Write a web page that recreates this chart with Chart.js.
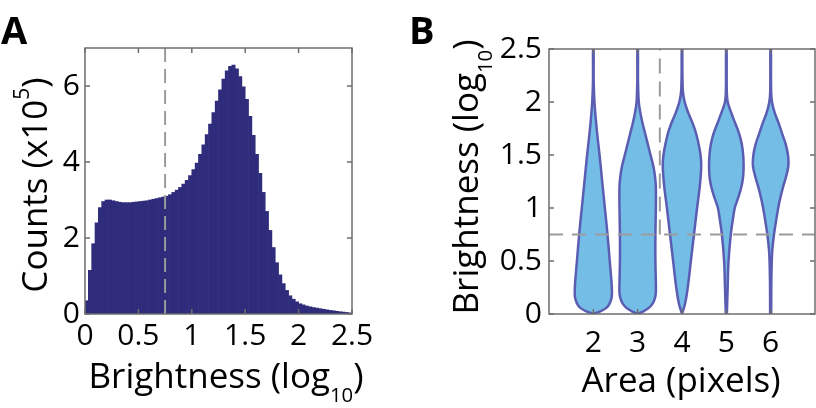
<!DOCTYPE html>
<html>
<head>
<meta charset="utf-8">
<script src="https://cdn.jsdelivr.net/npm/chart.js@4.4.1/dist/chart.umd.min.js"></script>
<style>
  html, body { margin: 0; padding: 0; background: #fff; }
  body { width: 816px; height: 408px; position: relative; overflow: hidden; font-family: 'Open Sans', sans-serif; }
  .panel { position: absolute; top: 0; width: 408px; height: 408px; }
  .lbl { position: absolute; font-size: 35px; line-height: 34px; height: 34px; white-space: nowrap; text-align: center; color: #000; }
  .lbl sup { font-size: 0.6em; vertical-align: baseline; position: relative; top: -0.85em; }
  .lbl sub { font-size: 0.58em; vertical-align: baseline; position: relative; top: 0.7em; }
  .rot { transform: rotate(-90deg); }
  .letter { position: absolute; font-size: 38px; line-height: 38px; font-weight: 700; color: #000; }
</style>
</head>
<body>
<div class="panel" style="left:0"><canvas id="histChart" width="408" height="408"></canvas></div>
<div class="panel" style="left:408px"><canvas id="violinChart" width="408" height="408"></canvas></div>

<div class="letter" style="left:1px; top:10px;">A</div>
<div class="letter" style="left:409px; top:10px;">B</div>
<div class="lbl rot" style="left:-116px; top:168px; width:300px;">Counts (x10<sup>5</sup>)</div>
<div class="lbl" style="left:26px; top:358px; width:400px;">Brightness (log<sub>10</sub>)</div>
<div class="lbl rot" style="left:315px; top:160px; width:300px;">Brightness (log<sub>10</sub>)</div>
<div class="lbl" style="left:481px; top:362px; width:400px;">Area (pixels)</div>

<script>
// --- panel A: brightness histogram (counts in units of 1e5) ---
const binStart = 0;
const binWidth = 0.03125;
const histCounts = [
  0.35, 1.15, 1.85, 2.4, 2.8, 2.96, 3.0, 3.0, 2.98, 2.96,
  2.94, 2.93, 2.93, 2.93, 2.94, 2.95, 2.96, 2.97, 2.98, 3.0,
  3.02, 3.04, 3.06, 3.08, 3.1, 3.14, 3.2, 3.26, 3.33, 3.42,
  3.52, 3.64, 3.8, 3.97, 4.2, 4.45, 4.72, 5.0, 5.3, 5.6,
  5.9, 6.18, 6.4, 6.52, 6.55, 6.45, 6.25, 5.98, 5.65, 5.2,
  4.7, 4.2, 3.7, 3.2, 2.7, 2.2, 1.75, 1.35, 1.03, 0.8,
  0.62, 0.48, 0.39, 0.32, 0.27, 0.24, 0.21, 0.19, 0.17, 0.155,
  0.14, 0.125, 0.11, 0.095, 0.085, 0.07, 0.06, 0.05, 0.04, 0.03
];
const brightnessTicks = [0, 0.5, 1, 1.5, 2, 2.5];
const countTicks = [0, 2, 4, 6];
const brightnessCut = 0.75;
const areaCut = 3.5;

// --- panel B: violin half-widths (x units) at brightness levels ---
const areaTicks = [2, 3, 4, 5, 6];
const violin2Y = [0, 0.03, 0.06, 0.1, 0.15, 0.2, 0.3, 0.5, 0.75, 1.0, 1.25, 1.5, 1.75, 2.0, 2.2, 2.5];
const violin2W = [0, 0.18, 0.30, 0.37, 0.41, 0.42, 0.41, 0.37, 0.32, 0.26, 0.2, 0.14, 0.075, 0.025, 0.008, 0.006];
const violin3Y = [0, 0.03, 0.06, 0.1, 0.15, 0.2, 0.3, 0.5, 0.75, 1.0, 1.2, 1.3, 1.4, 1.5, 1.6, 1.7, 1.8, 1.9, 2.0, 2.2, 2.5];
const violin3W = [0, 0.15, 0.26, 0.34, 0.39, 0.41, 0.41, 0.40, 0.40, 0.41, 0.41, 0.39, 0.35, 0.29, 0.23, 0.17, 0.11, 0.06, 0.025, 0.008, 0.006];
const violin4Y = [0, 0.1, 0.25, 0.5, 0.75, 1.0, 1.2, 1.35, 1.45, 1.55, 1.7, 1.8, 1.9, 2.0, 2.1, 2.3, 2.5];
const violin4W = [0, 0.07, 0.13, 0.2, 0.27, 0.34, 0.40, 0.43, 0.43, 0.40, 0.32, 0.24, 0.14, 0.06, 0.02, 0.008, 0.006];
const violin5Y = [0, 0.25, 0.5, 0.75, 0.9, 1.0, 1.1, 1.2, 1.3, 1.4, 1.5, 1.6, 1.7, 1.8, 1.9, 2.0, 2.1, 2.5];
const violin5W = [0.012, 0.03, 0.05, 0.1, 0.15, 0.19, 0.27, 0.34, 0.38, 0.39, 0.38, 0.35, 0.29, 0.2, 0.11, 0.03, 0.01, 0.006];
const violin6Y = [0, 0.3, 0.5, 0.62, 0.75, 0.9, 1.0, 1.1, 1.2, 1.3, 1.4, 1.5, 1.6, 1.7, 1.8, 1.9, 2.0, 2.1, 2.5];
const violin6W = [0.012, 0.015, 0.025, 0.04, 0.075, 0.13, 0.17, 0.22, 0.28, 0.35, 0.40, 0.39, 0.34, 0.26, 0.18, 0.09, 0.03, 0.01, 0.006];

const violinYs = [violin2Y, violin3Y, violin4Y, violin5Y, violin6Y];
const violinWs = [violin2W, violin3W, violin4W, violin5W, violin6W];

Chart.defaults.font.family = "'Open Sans', sans-serif";
Chart.defaults.color = '#000';
Chart.defaults.animation = false;

const dashGray = '#9b9b9b';
const tickFont = { size: 30 };
const plainLabel = v => String(v);

// box round the plot area with inward ticks on all four sides
const boxTicks = {
  id: 'boxTicks',
  afterDatasetsDraw(chart) {
    const { ctx, chartArea: a, scales: { x, y } } = chart;
    ctx.save();
    ctx.strokeStyle = '#6e6e6e';
    ctx.lineWidth = 1.5;
    ctx.strokeRect(a.left, a.top, a.right - a.left, a.bottom - a.top);
    ctx.beginPath();
    x.ticks.forEach(t => {
      const px = x.getPixelForValue(t.value);
      ctx.moveTo(px, a.bottom); ctx.lineTo(px, a.bottom - 5);
      ctx.moveTo(px, a.top); ctx.lineTo(px, a.top + 5);
    });
    y.ticks.forEach(t => {
      const py = y.getPixelForValue(t.value);
      ctx.moveTo(a.left, py); ctx.lineTo(a.left + 5, py);
      ctx.moveTo(a.right, py); ctx.lineTo(a.right - 5, py);
    });
    ctx.stroke();
    ctx.restore();
  }
};

const fixTicks = list => scale => { scale.ticks = list.map(v => ({ value: v })); };

// --- chart A ---
new Chart(document.getElementById('histChart'), {
  type: 'bar',
  data: {
    datasets: [
      {
        type: 'line',
        data: [{ x: brightnessCut, y: 0 }, { x: brightnessCut, y: 7 }],
        borderColor: dashGray,
        borderWidth: 2,
        borderDash: [14, 7],
        pointRadius: 0,
        order: 0
      },
      {
        data: histCounts.map((c, i) => ({ x: binStart + (i + 0.5) * binWidth, y: c })),
        backgroundColor: '#2f2c7c',
        borderWidth: 0,
        barPercentage: 1,
        categoryPercentage: 1,
        order: 1
      }
    ]
  },
  options: {
    responsive: false,
    layout: { padding: { top: 48, right: 56, bottom: 0, left: 0 } },
    plugins: { legend: { display: false }, tooltip: { enabled: false } },
    scales: {
      x: {
        type: 'linear',
        min: 0,
        max: 2.5,
        offset: false,
        afterBuildTicks: fixTicks(brightnessTicks),
        afterFit: s => { s.height = 94; },
        grid: { display: false, drawTicks: false },
        border: { display: false },
        ticks: { font: tickFont, padding: 4, maxRotation: 0, callback: plainLabel }
      },
      y: {
        min: 0,
        max: 7,
        afterBuildTicks: fixTicks(countTicks),
        afterFit: s => { s.width = 85; },
        grid: { display: false, drawTicks: false },
        border: { display: false },
        ticks: { font: tickFont, padding: 5, callback: plainLabel }
      }
    }
  },
  plugins: [boxTicks]
});

// --- chart B ---
const violinSets = areaTicks.map((area, k) => {
  const ys = violinYs[k], ws = violinWs[k];
  const right = ys.map((y, i) => ({ x: area + ws[i], y }));
  const left = ys.map((y, i) => ({ x: area - ws[i], y })).reverse();
  return {
    data: right.concat(left),
    borderColor: '#5a5db2',
    backgroundColor: '#74bde6',
    borderWidth: 2.5,
    fill: 'shape',
    tension: 0.35,
    pointRadius: 0,
    order: 1
  };
});

new Chart(document.getElementById('violinChart'), {
  type: 'line',
  data: {
    datasets: [
      {
        data: [{ x: 1, y: brightnessCut }, { x: 7, y: brightnessCut }],
        borderColor: dashGray,
        borderWidth: 2,
        borderDash: [14, 9],
        pointRadius: 0,
        order: 0
      },
      {
        data: [{ x: areaCut, y: brightnessCut }, { x: areaCut, y: 2.5 }],
        borderColor: dashGray,
        borderWidth: 2,
        borderDash: [15, 8],
        pointRadius: 0,
        order: 0
      },
      ...violinSets
    ]
  },
  options: {
    responsive: false,
    layout: { padding: { top: 49, right: 1, bottom: 0, left: 0 } },
    plugins: { legend: { display: false }, tooltip: { enabled: false } },
    scales: {
      x: {
        type: 'linear',
        min: 1,
        max: 7,
        afterBuildTicks: fixTicks(areaTicks),
        afterFit: s => { s.height = 94; },
        grid: { display: false, drawTicks: false },
        border: { display: false },
        ticks: { font: tickFont, padding: 11, maxRotation: 0, callback: plainLabel }
      },
      y: {
        min: 0,
        max: 2.5,
        afterBuildTicks: fixTicks(brightnessTicks),
        afterFit: s => { s.width = 141; },
        grid: { display: false, drawTicks: false },
        border: { display: false },
        ticks: { font: tickFont, padding: 7, callback: plainLabel }
      }
    }
  },
  plugins: [boxTicks]
});
</script>
</body>
</html>
